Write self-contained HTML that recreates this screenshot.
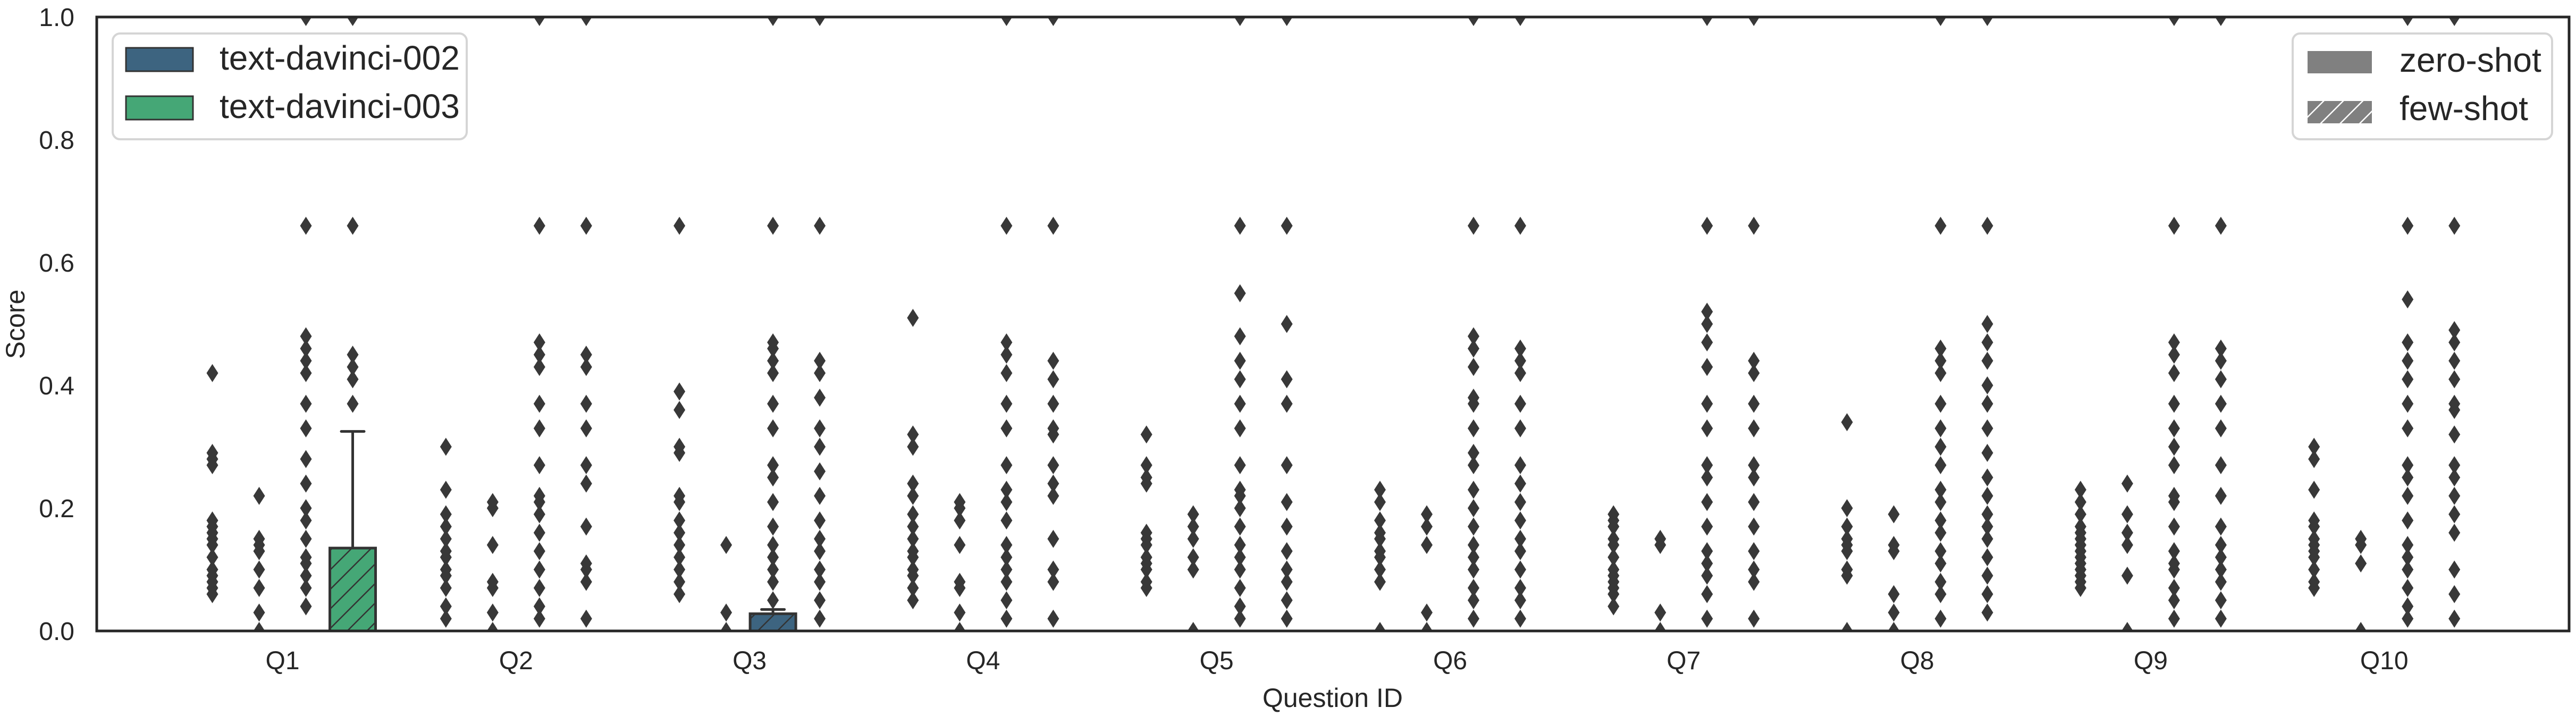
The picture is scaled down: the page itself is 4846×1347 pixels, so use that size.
<!DOCTYPE html>
<html><head><meta charset="utf-8"><style>
html,body{margin:0;padding:0;background:#fff;}
svg{display:block;font-family:"Liberation Sans",Arial,sans-serif;}
</style></head><body>
<svg id="chart" width="4846" height="1347" viewBox="0 0 4846 1347" xmlns="http://www.w3.org/2000/svg">
<defs>
<clipPath id="plotclip"><rect x="182" y="32" width="4651" height="1155"/></clipPath>
<pattern id="hatchBlue" patternUnits="userSpaceOnUse" width="26" height="26" patternTransform="rotate(45)">
<rect width="26" height="26" fill="#3d6480"/><line x1="0" y1="0" x2="0" y2="26" stroke="#333" stroke-width="5"/></pattern>
<pattern id="hatchGreen" patternUnits="userSpaceOnUse" width="26" height="26" patternTransform="rotate(45)">
<rect width="26" height="26" fill="#45a776"/><line x1="0" y1="0" x2="0" y2="26" stroke="#333" stroke-width="5"/></pattern>
<pattern id="hatchGrey" patternUnits="userSpaceOnUse" width="26" height="26" patternTransform="rotate(45)">
<rect width="26" height="26" fill="#808080"/><line x1="0" y1="0" x2="0" y2="26" stroke="#fff" stroke-width="5"/></pattern>
</defs>
<g id="grid"></g>
<g id="marks" clip-path="url(#plotclip)"></g>
<rect x="182" y="32" width="4651" height="1155" fill="none" stroke="#262626" stroke-width="5"/>
<g id="yticks"></g>
<g id="xticks"></g>
<text x="46" y="610" transform="rotate(-90 46 610)" text-anchor="middle" font-size="50" fill="#262626">Score</text>
<text x="2507" y="1330" text-anchor="middle" font-size="50" fill="#262626">Question ID</text>

<g>
<rect x="212" y="63" width="666" height="199" rx="14" fill="#fff" stroke="#d5d5d5" stroke-width="4"/>
<rect x="237" y="90" width="126" height="44" fill="#3d6480" stroke="#333" stroke-width="3"/>
<text x="413" y="131" font-size="64" fill="#262626">text-davinci-002</text>
<rect x="237" y="181" width="126" height="44" fill="#45a776" stroke="#333" stroke-width="3"/>
<text x="413" y="222" font-size="64" fill="#262626">text-davinci-003</text>
</g>
<g>
<rect x="4313" y="63" width="488" height="199" rx="14" fill="#fff" stroke="#d5d5d5" stroke-width="4"/>
<rect x="4341" y="96" width="121" height="42" fill="#808080"/>
<text x="4514" y="135" font-size="64" fill="#262626">zero-shot</text>
<rect x="4341" y="190" width="121" height="42" fill="url(#hatchGrey)"/>
<text x="4514" y="226" font-size="64" fill="#262626">few-shot</text>
</g>
</svg>
<script>
const categories = ["Q1","Q2","Q3","Q4","Q5","Q6","Q7","Q8","Q9","Q10"];
const yTicks = [0.0,0.2,0.4,0.6,0.8,1.0];
const yTickLabels = ["0.0","0.2","0.4","0.6","0.8","1.0"];
const seriesNames = ["davinci-002-zero","davinci-003-zero","davinci-002-few","davinci-003-few"];
const q3_002zero = [0,0,0,0,0,0,0,0,0,0];
const q3_003zero = [0,0,0,0,0,0,0,0,0,0];
const q3_002few = [0,0,0.028,0,0,0,0,0,0,0];
const q3_003few = [0.135,0,0,0,0,0,0,0,0,0];
const whisk_002zero = [0,0,0,0,0,0,0,0,0,0];
const whisk_003zero = [0,0,0,0,0,0,0,0,0,0];
const whisk_002few = [0,0,0.035,0,0,0,0,0,0,0];
const whisk_003few = [0.325,0,0,0,0,0,0,0,0,0];
const fl_002zero = [
 [0.42,0.29,0.28,0.27,0.18,0.17,0.16,0.15,0.14,0.12,0.10,0.09,0.08,0.07,0.06],
 [0.30,0.23,0.19,0.17,0.15,0.13,0.12,0.10,0.09,0.07,0.04,0.02],
 [0.66,0.39,0.36,0.30,0.29,0.22,0.21,0.18,0.16,0.14,0.12,0.10,0.08,0.06],
 [0.51,0.32,0.30,0.24,0.22,0.19,0.17,0.15,0.13,0.12,0.10,0.09,0.07,0.05],
 [0.32,0.27,0.25,0.24,0.16,0.15,0.14,0.12,0.11,0.10,0.08,0.07],
 [0.23,0.21,0.18,0.16,0.15,0.13,0.12,0.10,0.08,0.0],
 [0.19,0.18,0.17,0.15,0.14,0.12,0.10,0.09,0.08,0.07,0.06,0.04],
 [0.34,0.20,0.17,0.15,0.14,0.13,0.10,0.09,0.0],
 [0.23,0.21,0.19,0.17,0.16,0.15,0.14,0.13,0.12,0.11,0.10,0.09,0.08,0.07],
 [0.30,0.28,0.23,0.18,0.17,0.15,0.14,0.13,0.12,0.10,0.08,0.07]];
const fl_003zero = [
 [0.22,0.15,0.14,0.13,0.10,0.07,0.03,0.0],
 [0.21,0.20,0.14,0.08,0.07,0.03,0.0],
 [0.14,0.03,0.0],
 [0.21,0.20,0.18,0.14,0.08,0.07,0.03,0.0],
 [0.19,0.17,0.15,0.12,0.10,0.0],
 [0.19,0.17,0.14,0.03,0.0],
 [0.15,0.14,0.03,0.0],
 [0.19,0.14,0.13,0.06,0.03,0.0],
 [0.24,0.19,0.16,0.14,0.09,0.0],
 [0.15,0.14,0.11,0.0]];
const fl_002few = [
 [1.0,0.66,0.48,0.46,0.44,0.42,0.37,0.33,0.28,0.24,0.20,0.18,0.15,0.12,0.11,0.09,0.07,0.04],
 [1.0,0.66,0.47,0.45,0.43,0.37,0.33,0.27,0.22,0.21,0.19,0.16,0.13,0.10,0.07,0.04,0.02],
 [1.0,0.66,0.47,0.46,0.44,0.42,0.37,0.33,0.27,0.25,0.21,0.17,0.14,0.12,0.10,0.08,0.05],
 [1.0,0.66,0.47,0.45,0.42,0.37,0.33,0.27,0.23,0.21,0.18,0.14,0.12,0.10,0.08,0.05,0.02],
 [1.0,0.66,0.55,0.48,0.44,0.41,0.37,0.33,0.27,0.23,0.22,0.20,0.17,0.14,0.12,0.10,0.07,0.04,0.02],
 [1.0,0.66,0.48,0.46,0.43,0.38,0.37,0.33,0.29,0.27,0.23,0.20,0.17,0.14,0.12,0.10,0.07,0.05,0.02],
 [1.0,0.66,0.52,0.50,0.47,0.43,0.37,0.33,0.27,0.25,0.21,0.17,0.13,0.11,0.09,0.06,0.02],
 [1.0,0.66,0.46,0.44,0.42,0.37,0.33,0.30,0.27,0.23,0.21,0.18,0.16,0.13,0.11,0.08,0.06,0.02],
 [1.0,0.66,0.47,0.45,0.42,0.37,0.33,0.30,0.27,0.22,0.21,0.17,0.13,0.11,0.10,0.07,0.05,0.02],
 [1.0,0.66,0.54,0.47,0.44,0.41,0.37,0.33,0.27,0.25,0.22,0.18,0.14,0.12,0.10,0.07,0.04,0.02]];
const fl_003few = [
 [1.0,0.66,0.45,0.43,0.41,0.37],
 [1.0,0.66,0.45,0.43,0.37,0.33,0.27,0.24,0.17,0.11,0.10,0.08,0.02],
 [1.0,0.66,0.44,0.42,0.38,0.33,0.30,0.26,0.22,0.18,0.15,0.13,0.10,0.08,0.05,0.02],
 [1.0,0.66,0.44,0.41,0.37,0.33,0.32,0.27,0.24,0.22,0.15,0.10,0.08,0.02],
 [1.0,0.66,0.50,0.41,0.37,0.27,0.21,0.17,0.13,0.10,0.08,0.05,0.02],
 [1.0,0.66,0.46,0.44,0.42,0.37,0.33,0.27,0.24,0.21,0.18,0.15,0.13,0.10,0.07,0.05,0.02],
 [1.0,0.66,0.44,0.42,0.37,0.33,0.27,0.25,0.21,0.17,0.13,0.10,0.08,0.02],
 [1.0,0.66,0.50,0.47,0.44,0.40,0.37,0.33,0.29,0.25,0.22,0.19,0.17,0.15,0.12,0.09,0.06,0.03],
 [1.0,0.66,0.46,0.44,0.41,0.37,0.33,0.27,0.22,0.17,0.14,0.12,0.10,0.08,0.05,0.02],
 [1.0,0.66,0.49,0.47,0.44,0.41,0.37,0.36,0.32,0.27,0.25,0.22,0.19,0.16,0.10,0.06,0.02]];

const NS = "http://www.w3.org/2000/svg";
const X0 = 531.5, XSTEP = 439.3, Y0 = 1187, YH = 1155;
const slotOff = [-132,-44,44,132];
const BW = 86;
function xScale(i, s){ return X0 + XSTEP*i + slotOff[s]; }
function yScale(v){ return Y0 - v*YH; }
function mk(tag, attrs, parent){ const e=document.createElementNS(NS,tag); for(const k in attrs) e.setAttribute(k,attrs[k]); parent.appendChild(e); return e; }

const yg = document.getElementById('yticks');
yTicks.forEach((t,k)=>{
  const tx = mk('text',{x:140,y:yScale(t)+17,'text-anchor':'end','font-size':48,fill:'#262626'},yg);
  tx.textContent = yTickLabels[k];
  
  
});
const xg = document.getElementById('xticks');
categories.forEach((c,i)=>{
  const tx = mk('text',{x:X0+XSTEP*i,y:1259,'text-anchor':'middle','font-size':48,fill:'#262626'},xg);
  tx.textContent = c;
  
  
});

const fills = ["#3d6480","#45a776","url(#hatchBlue)","url(#hatchGreen)"];
const q3s = [q3_002zero,q3_003zero,q3_002few,q3_003few];
const whs = [whisk_002zero,whisk_003zero,whisk_002few,whisk_003few];
const fls = [fl_002zero,fl_003zero,fl_002few,fl_003few];
const mg = document.getElementById('marks');
categories.forEach((c,i)=>{
  for(let s=0;s<4;s++){
    const cx = xScale(i,s);
    const q3 = q3s[s][i], wh = whs[s][i];
    if (wh > q3) {
      const w = mk('line',{x1:cx,x2:cx,y1:yScale(q3),y2:yScale(wh),stroke:'#333','stroke-width':5},mg);
      
      
      const cap = mk('line',{x1:cx-BW/4,x2:cx+BW/4,y1:yScale(wh),y2:yScale(wh),stroke:'#333','stroke-width':5,'stroke-linecap':'round'},mg);
      
      
    }
    if (q3 > 0) {
      const b = mk('rect',{x:cx-BW/2,y:yScale(q3),width:BW,height:yScale(0)-yScale(q3),fill:fills[s],stroke:'#333','stroke-width':5},mg);
      
      
    } else {
      const m = mk('line',{x1:cx-BW/2,x2:cx+BW/2,y1:yScale(0),y2:yScale(0),stroke:'#333','stroke-width':4},mg);
      
      
    }
    fls[s][i].forEach(v=>{
      const y = yScale(v);
      const d = mk('polygon',{points:`${cx},${y-17} ${cx+11},${y} ${cx},${y+17} ${cx-11},${y}`,fill:'#383838'},mg);
      
      
    });
  }
});
</script>
</body></html>
